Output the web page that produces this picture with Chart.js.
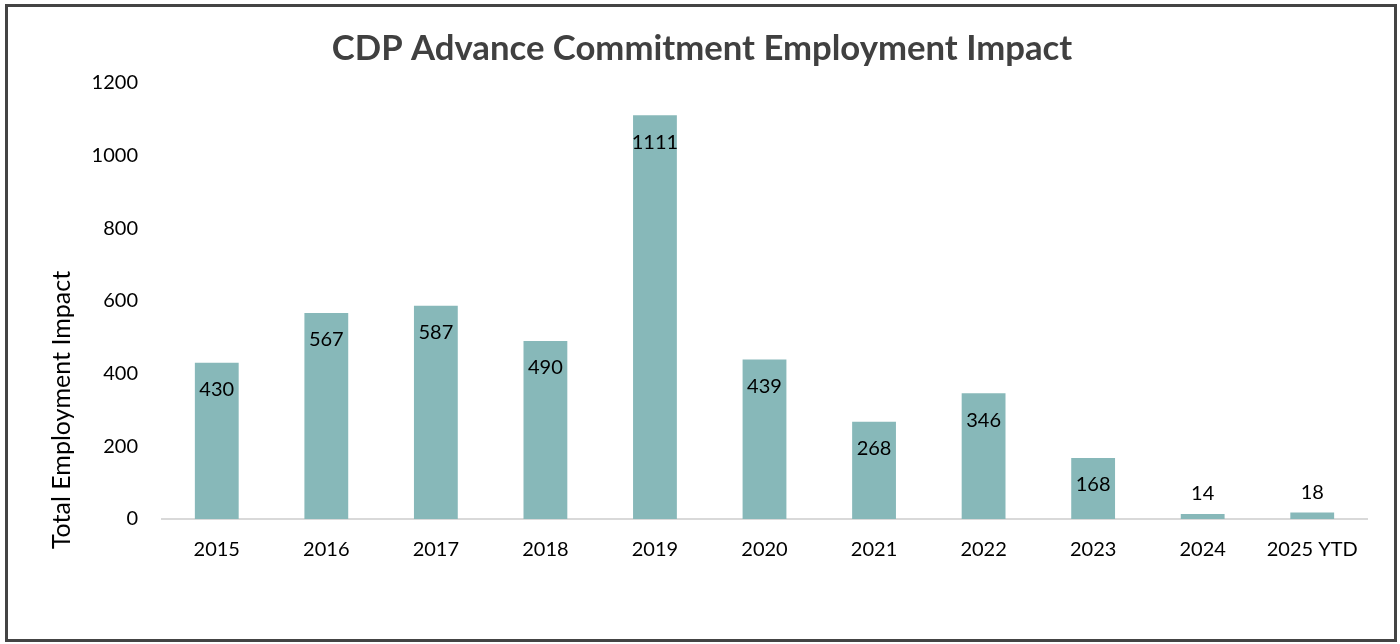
<!DOCTYPE html>
<html lang="en">
<head>
  <meta charset="UTF-8" />
  <title>CDP Advance Commitment Employment Impact</title>
  <script src="https://cdn.jsdelivr.net/npm/chart.js"></script>
  <style>
    html,body{margin:0;padding:0;background:#fff;}
    .wrap{position:relative;width:1400px;height:644px;}
    .frame{position:absolute;left:5px;top:4px;width:1392px;height:638px;
           box-sizing:border-box;border:3px solid #444;pointer-events:none;}
  </style>
</head>
<body>
  <div class="wrap">
    <canvas id="impactChart" width="1400" height="644"></canvas>
    <div class="frame"></div>
  </div>

  <script>
    const years=['2015','2016','2017','2018','2019','2020','2021','2022','2023','2024','2025 YTD'];
    const impact=[430,567,587,490,1111,439,268,346,168,14,18];
    const yTicks=[0,200,400,600,800,1000,1200];

    const FONT='Lato, "Open Sans", sans-serif';

    // value labels: inside the top of tall bars, just above short ones
    const barLabels={
      id:'barLabels',
      afterDatasetsDraw(chart){
        const ctx=chart.ctx;
        const meta=chart.getDatasetMeta(0);
        ctx.save();
        ctx.font=`20px ${FONT}`;
        ctx.fillStyle='#000';
        ctx.textAlign='center';
        ctx.textBaseline='middle';
        meta.data.forEach((bar,i)=>{
          const h=bar.base-bar.y;
          const y=h>40 ? bar.y+27 : bar.y-20;
          ctx.fillText(String(impact[i]),bar.x,y);
        });
        ctx.restore();
      }
    };

    // rotated y axis title
    const yTitle={
      id:'yTitle',
      afterDraw(chart){
        const ctx=chart.ctx;
        ctx.save();
        ctx.translate(62,410);
        ctx.rotate(-Math.PI/2);
        ctx.font=`25px ${FONT}`;
        ctx.fillStyle='#000';
        ctx.textAlign='center';
        ctx.textBaseline='middle';
        ctx.fillText('Total Employment Impact',0,0);
        ctx.restore();
      }
    };

    new Chart(document.getElementById('impactChart'),{
      type:'bar',
      data:{
        labels:years,
        datasets:[{
          label:'Total Employment Impact',
          data:impact,
          backgroundColor:'#87b8b9',
          borderWidth:0,
          categoryPercentage:1,
          barPercentage:0.4
        }]
      },
      options:{
        responsive:false,
        animation:false,
        layout:{padding:{top:0,right:33,bottom:0,left:37}},
        plugins:{
          legend:{display:false},
          tooltip:{enabled:false},
          title:{
            display:true,
            text:'CDP Advance Commitment Employment Impact',
            color:'#404040',
            font:{family:FONT,size:34.7,weight:'bold'},
            padding:{top:28,bottom:13.4}
          }
        },
        scales:{
          x:{
            grid:{display:false,drawTicks:false},
            border:{display:true,color:'#d9d9d9',width:2},
            ticks:{color:'#000',font:{family:FONT,size:20},padding:19,maxRotation:0},
            afterFit(s){s.height=125;}
          },
          y:{
            min:0,max:1200,
            afterBuildTicks(s){s.ticks=yTicks.map(v=>({value:v}));},
            grid:{display:false,drawTicks:false},
            border:{display:false},
            ticks:{color:'#000',font:{family:FONT,size:20},padding:24,callback:v=>String(v)},
            afterFit(s){s.width=125;}
          }
        }
      },
      plugins:[barLabels,yTitle]
    });
  </script>
</body>
</html>
